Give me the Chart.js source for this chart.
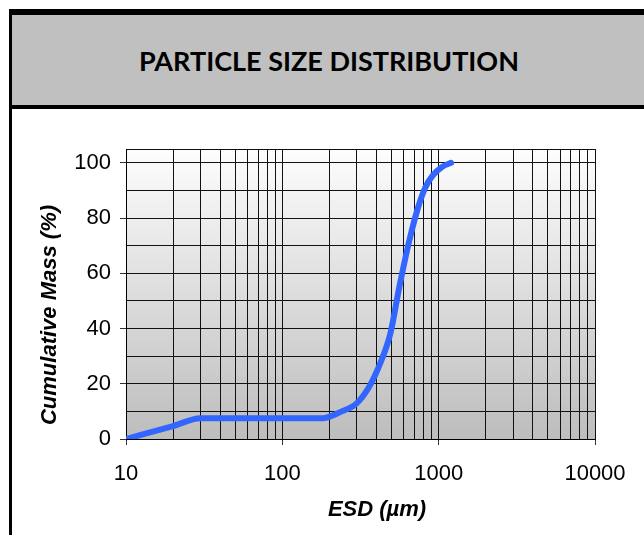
<!DOCTYPE html>
<html>
<head>
<meta charset="utf-8">
<script src="https://cdn.jsdelivr.net/npm/chart.js@4"></script>
<style>
  html, body { margin: 0; padding: 0; background: #fff; }
  body { width: 644px; height: 535px; position: relative; overflow: hidden; }
  .header {
    position: absolute; left: 9px; top: 9px; width: 640px; height: 90px;
    background: #c0c0c0;
    border-top: 6px solid #000; border-bottom: 4px solid #000; border-left: 3px solid #000;
    box-sizing: content-box;
  }
  .header h1 {
    margin: 0; position: absolute; left: 0; right: 0; top: 0; bottom: 0;
    display: flex; align-items: center; justify-content: center;
    font-family: Lato, "Open Sans", sans-serif; font-weight: 700; font-size: 27px;
    padding-right: 6px;
    color: #000;
  }
  .left-rule { position: absolute; left: 9px; top: 109px; width: 3px; height: 426px; background: #000; }
  #wrap { position: absolute; left: 12px; top: 110px; width: 632px; height: 425px; }
</style>
</head>
<body>
<div class="header"><h1>PARTICLE SIZE DISTRIBUTION</h1></div>
<div class="left-rule"></div>
<div id="wrap"><canvas id="psd"></canvas></div>
<script>
// ESD in micrometres and cumulative mass in %
const esd = [10, 20, 30, 180, 240, 300, 360, 420, 490, 560, 650, 740, 820, 920, 1050, 1200];
const cumMass = [0, 4.7, 7.5, 7.5, 10, 13, 19, 27, 38, 55, 72, 84, 91, 95.5, 98.5, 100];

const xTickValues = [10, 20, 30, 40, 50, 60, 70, 80, 90,
  100, 200, 300, 400, 500, 600, 700, 800, 900,
  1000, 2000, 3000, 4000, 5000, 6000, 7000, 8000, 9000, 10000];
const xLabels = [10, 100, 1000, 10000];
const yTickValues = [0, 10, 20, 30, 40, 50, 60, 70, 80, 90, 100, 105];
const yLabels = [0, 20, 40, 60, 80, 100];

const xTitle = 'ESD (µm)';
const yTitle = 'Cumulative Mass (%)';

const points = esd.map((x, i) => ({ x: x, y: cumMass[i] }));

const plotBg = {
  id: 'plotBg',
  beforeDraw(chart) {
    const { ctx, chartArea: a } = chart;
    const g = ctx.createLinearGradient(0, a.top, 0, a.bottom);
    g.addColorStop(0, '#fdfdfd');
    g.addColorStop(1, '#bdbdbd');
    ctx.save();
    ctx.fillStyle = g;
    ctx.fillRect(a.left, a.top, a.right - a.left, a.bottom - a.top);
    ctx.restore();
  }
};

// axis titles sit a little off-centre in the original, so draw them by hand
const axisTitles = {
  id: 'axisTitles',
  afterDraw(chart) {
    const ctx = chart.ctx;
    ctx.save();
    ctx.fillStyle = '#000';
    ctx.font = 'italic bold 22px "Liberation Sans", Arial, sans-serif';
    ctx.textAlign = 'center';
    ctx.textBaseline = 'middle';
    ctx.fillText(xTitle, 365, 400);
    ctx.translate(38, 205);
    ctx.rotate(-Math.PI / 2);
    ctx.fillText(yTitle, 0, 0);
    ctx.restore();
  }
};

const tickFont = { family: '"Liberation Sans", Arial, sans-serif', size: 22 };

new Chart(document.getElementById('psd'), {
  type: 'line',
  data: {
    datasets: [{
      data: points,
      borderColor: '#3366ff',
      borderWidth: 6,
      pointRadius: 0,
      cubicInterpolationMode: 'monotone',
      borderCapStyle: 'round',
      borderJoinStyle: 'round',
      fill: false
    }]
  },
  options: {
    responsive: true,
    maintainAspectRatio: false,
    animation: false,
    layout: { padding: { left: 0, right: 49, top: 39, bottom: 0 } },
    plugins: { legend: { display: false }, tooltip: { enabled: false } },
    scales: {
      x: {
        type: 'logarithmic',
        min: 10,
        max: 10000,
        afterBuildTicks: s => { s.ticks = xTickValues.map(v => ({ value: v })); },
        ticks: {
          autoSkip: false, maxRotation: 0, padding: 16,
          color: '#000', font: tickFont,
          callback: v => xLabels.includes(v) ? String(v) : ''
        },
        grid: {
          color: '#111', lineWidth: 1, tickLength: 6,
          tickColor: c => xLabels.includes(c.tick && c.tick.value) ? '#333' : 'rgba(0,0,0,0)'
        },
        border: { color: '#000', width: 1 },
        afterFit: s => { s.height = 96; }
      },
      y: {
        min: 0,
        max: 105,
        afterBuildTicks: s => { s.ticks = yTickValues.map(v => ({ value: v })); },
        ticks: {
          autoSkip: false, padding: 9,
          color: '#000', font: tickFont,
          callback: v => yLabels.includes(v) ? String(v) : ''
        },
        grid: {
          color: '#111', lineWidth: 1, tickLength: 6,
          tickColor: c => yLabels.includes(c.tick && c.tick.value) ? '#333' : 'rgba(0,0,0,0)'
        },
        border: { color: '#000', width: 1 },
        afterFit: s => { s.width = 114; }
      }
    }
  },
  plugins: [plotBg, axisTitles]
});
</script>
</body>
</html>
